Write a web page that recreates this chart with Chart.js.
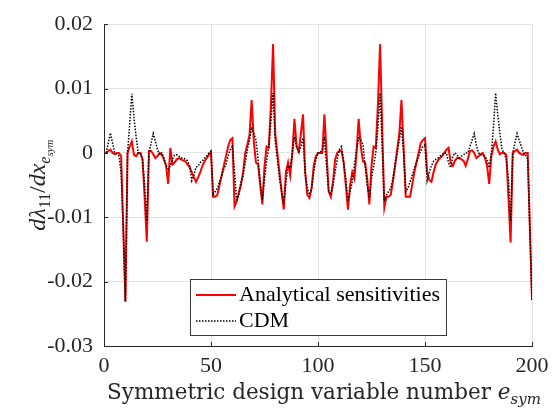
<!DOCTYPE html>
<html>
<head>
<meta charset="utf-8">
<script src="https://cdn.jsdelivr.net/npm/chart.js@4.4.1/dist/chart.umd.min.js"></script>
<style>
  html, body { margin: 0; padding: 0; background: #fff; }
  #sens { display: block; }
</style>
</head>
<body>
<canvas id="sens" width="557" height="417"></canvas>
<script>
// design variable numbers 1..200
const designVars = Array.from({ length: 200 }, (_, i) => i + 1);

// analytical sensitivities dλ11/dx
const analytical = [
  0, 0.0003, 0.0005, 0, -0.0002, 0, 0, -0.0005, -0.0115, -0.0231,
  0, 0.001, 0.0018, -0.0003, -0.0005, 0, 0, -0.001, -0.007, -0.0138,
  0.0003, 0.0003, -0.0002, -0.0008, -0.0005, 0, -0.0003, -0.001, -0.002, -0.0048,
  0.0008, -0.0018, -0.0015, -0.001, -0.0008, -0.001, -0.0012, -0.0013, -0.0018, -0.0022,
  -0.003, -0.0038, -0.0045, -0.0038, -0.003, -0.002, -0.0013, -0.0008, -0.0003, 0.0001,
  -0.0068, -0.0068, -0.0065, -0.005, -0.0035, -0.002, -0.0005, 0.001, 0.002, 0.0023,
  -0.0083, -0.0075, -0.0062, -0.005, -0.003, 0, 0.0013, 0.0028, 0.0082, 0.0018,
  -0.0015, -0.0018, -0.005, -0.008, -0.002, 0.001, 0.0008, 0.0075, 0.0169, 0.003,
  0, -0.003, -0.006, -0.0088, -0.003, -0.0015, -0.0035, 0, 0.0053, 0.001,
  0.0002, 0.003, 0.006, -0.003, -0.0065, -0.007, -0.0055, -0.002, -0.0005, 0,
  0, 0, 0.006, 0, -0.006, -0.0068, -0.0045, -0.001, 0, 0.0003,
  0.0003, -0.0015, -0.005, -0.0088, -0.005, -0.003, -0.004, 0, 0.0053, 0.001,
  -0.0013, -0.0015, -0.004, -0.008, -0.002, 0.001, 0.0008, 0.0075, 0.0169, 0.004,
  -0.0085, -0.0068, -0.0068, -0.0065, -0.0045, -0.002, 0.0005, 0.003, 0.0082, 0.001,
  -0.0068, -0.0068, -0.0068, -0.005, -0.003, -0.0015, 0, 0.0015, 0.002, 0.0023,
  -0.003, -0.0042, -0.0045, -0.003, -0.0018, -0.0012, -0.0008, -0.0005, 0, 0.0005,
  0.0008, -0.0015, -0.002, -0.0012, -0.0008, -0.0008, -0.001, -0.0012, -0.002, -0.001,
  0.0003, 0.0004, 0, -0.0008, -0.0005, -0.0002, 0, -0.0008, -0.002, -0.0048,
  -0.0005, 0.001, 0.0018, 0.0005, -0.0002, 0, 0, -0.0003, -0.007, -0.0139,
  0, 0.0003, 0.0005, 0, -0.0002, -0.0003, 0, 0, -0.0115, -0.0229,
];

// central difference method
const cdm = [
  0, 0.0015, 0.0031, 0.0015, 0, -0.0002, -0.0005, -0.003, -0.012, -0.0231,
  0, 0.0045, 0.0092, 0.0055, 0.0025, 0, 0, -0.001, -0.005, -0.0106,
  0, 0.0015, 0.003, 0.0018, 0.0005, -0.0003, 0, -0.0008, -0.002, -0.0025,
  -0.002, -0.001, -0.0003, -0.0003, -0.0005, -0.0008, -0.0008, -0.001, -0.0012, -0.002,
  -0.0043, -0.0035, -0.0022, -0.002, -0.0015, -0.0012, -0.0008, -0.0005, 0, 0.0003,
  -0.0065, -0.006, -0.0055, -0.0045, -0.0035, -0.0025, -0.0018, -0.0005, 0.0005, 0.001,
  -0.003, -0.0075, -0.0065, -0.0045, -0.0035, -0.0015, 0.0005, 0.002, 0.004, 0.003,
  0.002, -0.001, -0.0045, -0.0073, -0.004, -0.0012, 0.001, 0.005, 0.0093, 0.002,
  -0.001, -0.004, -0.006, -0.008, -0.0045, -0.002, -0.0023, 0, 0.0025, 0.001,
  0, 0.001, 0.0023, -0.003, -0.0055, -0.0065, -0.0055, -0.003, -0.001, 0,
  0, 0.0005, 0.002, -0.002, -0.006, -0.0065, -0.005, -0.003, -0.001, 0.0005,
  0.001, -0.0015, -0.004, -0.0075, -0.006, -0.0045, -0.002, 0.0005, 0.0023, 0.002,
  0.0013, -0.002, -0.005, -0.007, -0.004, -0.002, 0, 0.004, 0.0093, 0.001,
  -0.0075, -0.0065, -0.006, -0.0055, -0.004, -0.002, 0, 0.002, 0.0041, 0,
  -0.006, -0.0055, -0.0045, -0.0035, -0.0025, -0.0015, -0.0005, 0.0003, 0.001, 0.0013,
  -0.0043, -0.003, -0.002, -0.0013, -0.001, -0.0008, -0.0005, -0.0003, 0, 0,
  -0.0015, -0.0023, -0.0005, 0, -0.0003, -0.0008, -0.0005, -0.0003, 0, 0,
  0.001, 0.002, 0.003, 0.0012, 0, -0.0003, -0.0003, -0.0005, -0.001, -0.0023,
  0, 0.004, 0.0093, 0.006, 0.003, 0.0005, 0, -0.001, -0.004, -0.0106,
  0, 0.0015, 0.003, 0.002, 0.001, 0, -0.0003, -0.001, -0.012, -0.0229,
];

const xTicks = [0, 50, 100, 150, 200];
const yTicks = [-0.03, -0.02, -0.01, 0, 0.01, 0.02];
const yTickLabels = ['-0.03', '-0.02', '-0.01', '0', '0.01', '0.02'];

const SERIF = '"Liberation Serif", "Times New Roman", serif';
const MATH = '"DejaVu Serif", serif';
const AXIS = '#262626';
const GRID = '#e3e3e3';

function toPoints(arr) {
  return designVars.map((x, i) => ({ x: x, y: arr[i] }));
}

// draws a row of text pieces (italics, subscripts) centred on cx
function drawRuns(ctx, runs, cx, cy) {
  let total = 0;
  runs.forEach((r) => {
    ctx.font = r.font;
    r.w = ctx.measureText(r.t).width;
    total += r.w + (r.gap || 0);
  });
  let x = cx - total / 2;
  ctx.textAlign = 'left';
  ctx.textBaseline = 'alphabetic';
  runs.forEach((r) => {
    ctx.font = r.font;
    ctx.fillText(r.t, x, cy + (r.dy || 0));
    x += r.w + (r.gap || 0);
  });
}

const decorPlugin = {
  id: 'decor',
  afterDraw(chart) {
    const { ctx, chartArea: a, scales } = chart;
    ctx.save();

    // inward tick marks
    ctx.strokeStyle = AXIS;
    ctx.lineWidth = 1;
    ctx.beginPath();
    yTicks.forEach((v) => {
      const py = Math.round(scales.y.getPixelForValue(v)) + 0.5;
      ctx.moveTo(a.left, py);
      ctx.lineTo(a.left + 4, py);
    });
    xTicks.forEach((v) => {
      const px = Math.round(scales.x.getPixelForValue(v)) + 0.5;
      ctx.moveTo(px, a.bottom);
      ctx.lineTo(px, a.bottom - 4);
    });
    ctx.stroke();

    // legend box
    const lx = 190, ly = 279, lw = 256, lh = 56;
    ctx.fillStyle = '#fff';
    ctx.fillRect(lx, ly, lw, lh);
    ctx.strokeStyle = '#3a3a3a';
    ctx.lineWidth = 1;
    ctx.strokeRect(lx + 0.5, ly + 0.5, lw, lh);

    ctx.lineWidth = 2;
    ctx.strokeStyle = '#ff0000';
    ctx.beginPath();
    ctx.moveTo(lx + 6, ly + 16);
    ctx.lineTo(lx + 46, ly + 16);
    ctx.stroke();

    ctx.lineWidth = 1.5;
    ctx.strokeStyle = '#000';
    ctx.setLineDash([1.5, 1.5]);
    ctx.beginPath();
    ctx.moveTo(lx + 6, ly + 42);
    ctx.lineTo(lx + 46, ly + 42);
    ctx.stroke();
    ctx.setLineDash([]);

    ctx.fillStyle = '#000';
    ctx.font = '22px ' + SERIF;
    ctx.textAlign = 'left';
    ctx.textBaseline = 'middle';
    ctx.fillText('Analytical sensitivities', lx + 49, ly + 16);
    ctx.fillText('CDM', lx + 49, ly + 42);

    // axis titles
    ctx.fillStyle = '#262626';
    drawRuns(ctx, [
      { t: 'Symmetric design variable number ', font: '21.5px ' + MATH },
      { t: 'e', font: 'italic 21.5px ' + MATH },
      { t: 'sym', font: 'italic 15px ' + MATH, dy: 5 },
    ], 324, 399);

    ctx.translate(37, (a.top + a.bottom) / 2);
    ctx.rotate(-Math.PI / 2);
    drawRuns(ctx, [
      { t: 'd\u03bb', font: 'italic 24px ' + SERIF },
      { t: '11', font: '16px ' + SERIF, dy: 5 },
      { t: '/', font: '24px ' + SERIF },
      { t: 'dx', font: 'italic 24px ' + SERIF },
      { t: 'e', font: 'italic 16px ' + SERIF, dy: 5 },
      { t: 'sym', font: 'italic 11px ' + SERIF, dy: 8 },
    ], 0, 8);
    ctx.restore();
  },
};

new Chart(document.getElementById('sens'), {
  type: 'line',
  data: {
    datasets: [
      {
        label: 'CDM',
        data: toPoints(cdm),
        borderColor: '#000',
        borderWidth: 1.5,
        borderDash: [1.5, 1.5],
        pointRadius: 0,
        fill: false,
      },
      {
        label: 'Analytical sensitivities',
        data: toPoints(analytical),
        borderColor: '#ff0000',
        borderWidth: 2,
        pointRadius: 0,
        fill: false,
      },
    ],
  },
  options: {
    responsive: false,
    animation: false,
    layout: { padding: { left: 0, right: 25, top: 15, bottom: 0 } },
    elements: { line: { tension: 0 } },
    plugins: { legend: { display: false }, tooltip: { enabled: false } },
    scales: {
      x: {
        type: 'linear',
        min: 0,
        max: 200,
        afterBuildTicks: (s) => { s.ticks = xTicks.map((v) => ({ value: v })); },
        afterFit: (s) => { s.height = 71; },
        grid: { color: GRID, drawTicks: false },
        border: { color: AXIS },
        ticks: { color: AXIS, padding: 7, maxRotation: 0, font: { family: SERIF, size: 22 } },
      },
      y: {
        min: -0.03,
        max: 0.02,
        afterBuildTicks: (s) => { s.ticks = yTicks.map((v) => ({ value: v })); },
        afterFit: (s) => { s.width = 104; },
        grid: { color: GRID, drawTicks: false },
        border: { color: AXIS },
        ticks: {
          color: AXIS,
          padding: 11,
          font: { family: SERIF, size: 22 },
          callback: (v) => yTickLabels[yTicks.findIndex((t) => Math.abs(t - v) < 1e-9)],
        },
      },
    },
  },
  plugins: [decorPlugin],
});
</script>
</body>
</html>
